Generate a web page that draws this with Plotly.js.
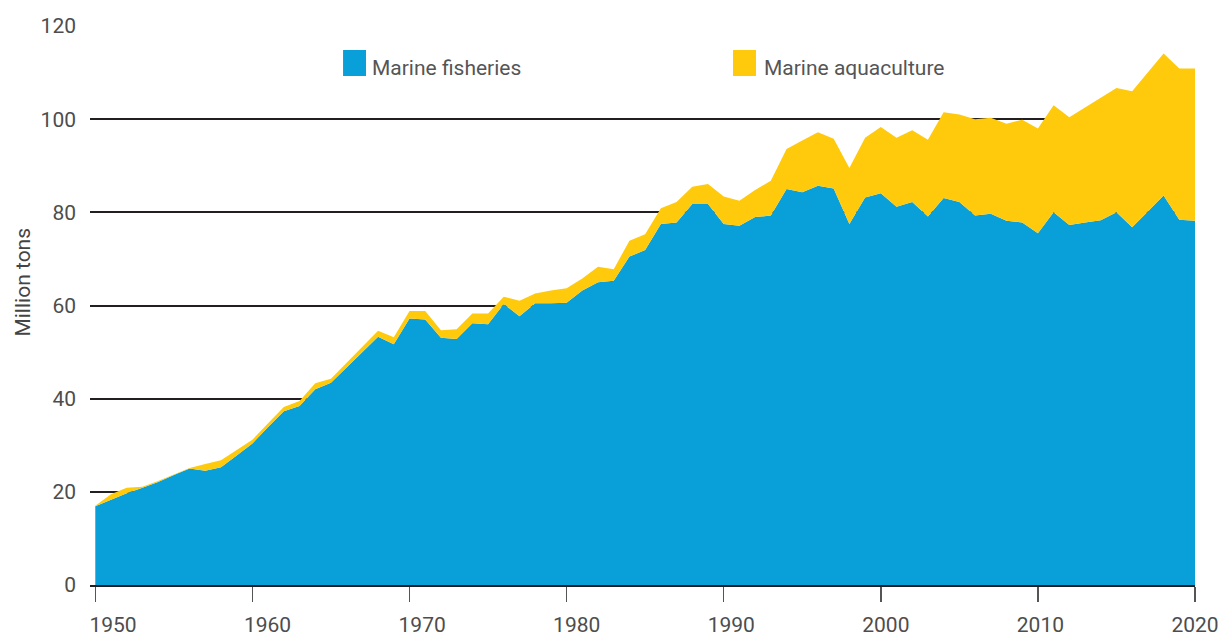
<!DOCTYPE html>
<html>
<head>
<meta charset="utf-8">
<script src="https://cdn.plot.ly/plotly-3.0.1.min.js"></script>
<style>
  html, body { margin: 0; padding: 0; background: #ffffff; }
  #chart { width: 1220px; height: 637px; }
</style>
</head>
<body>
<div id="chart"></div>
<script>
// ---- Data (million tons) ----
const years = [
  1950,1951,1952,1953,1954,1955,1956,1957,1958,1959,
  1960,1961,1962,1963,1964,1965,1966,1967,1968,1969,
  1970,1971,1972,1973,1974,1975,1976,1977,1978,1979,
  1980,1981,1982,1983,1984,1985,1986,1987,1988,1989,
  1990,1991,1992,1993,1994,1995,1996,1997,1998,1999,
  2000,2001,2002,2003,2004,2005,2006,2007,2008,2009,
  2010,2011,2012,2013,2014,2015,2016,2017,2018,2019,
  2020
];

const marineFisheries = [
  16.9,18.3,19.7,20.9,22.1,23.6,25.0,24.5,25.3,27.8,
  30.4,33.9,37.3,38.4,42.0,43.4,46.7,50.0,53.3,51.7,
  57.2,57.0,53.1,52.8,56.2,56.0,60.3,57.7,60.5,60.5,
  60.6,63.2,65.0,65.3,70.5,71.9,77.5,77.8,81.8,81.8,
  77.5,77.1,79.0,79.3,85.0,84.3,85.7,85.1,77.5,83.2,
  84.1,81.2,82.2,79.1,83.1,82.2,79.3,79.7,78.2,77.8,
  75.5,80.0,77.3,77.8,78.3,80.0,76.8,80.2,83.6,78.4,
  78.2
];

const marineAquaculture = [
  0.1,1.2,1.2,0.2,0.2,0.1,0.1,1.5,1.5,1.2,
  0.8,0.8,0.9,1.1,1.3,0.9,1.0,1.2,1.3,1.5,
  1.6,1.8,1.6,2.1,2.1,2.3,1.6,3.3,2.1,2.7,
  3.1,2.6,3.3,2.5,3.4,3.4,3.4,4.4,3.7,4.3,
  5.9,5.4,5.8,7.5,8.6,11.1,11.5,10.7,12.0,12.8,
  14.2,14.8,15.4,16.5,18.4,18.8,20.7,20.6,20.8,22.1,
  22.5,23.0,23.1,24.7,26.3,26.7,29.2,29.8,30.5,32.5,
  32.7
];

const seriesNames = ["Marine fisheries", "Marine aquaculture"];
const seriesColors = ["#09A0D9", "#FFC90C"];

const xTickVals = [1950, 1960, 1970, 1980, 1990, 2000, 2010, 2020];
const xTickText = ["1950", "1960", "1970", "1980", "1990", "2000", "2010", "2020"];
const yTickVals = [0, 20, 40, 60, 80, 100, 120];
const yTickText = ["0", "20", "40", "60", "80", "100", "120"];
const yAxisTitle = "Million tons";

// ---- Traces ----
const FONT = "Roboto, 'Open Sans', sans-serif";

const traces = [
  {
    type: "scatter",
    mode: "lines",
    name: seriesNames[0],
    x: years,
    y: marineFisheries,
    stackgroup: "catch",
    line: { width: 0, color: seriesColors[0] },
    fillcolor: seriesColors[0],
    showlegend: false,
    hoverinfo: "x+y+name"
  },
  {
    type: "scatter",
    mode: "lines",
    name: seriesNames[1],
    x: years,
    y: marineAquaculture,
    stackgroup: "catch",
    line: { width: 0, color: seriesColors[1] },
    fillcolor: seriesColors[1],
    showlegend: false,
    hoverinfo: "x+y+name"
  },
  {
    // carrier for the label axis
    type: "scatter",
    mode: "lines",
    x: [],
    y: [],
    xaxis: "x2",
    yaxis: "y",
    showlegend: false,
    hoverinfo: "skip"
  }
];

// ---- Custom legend (swatch + text) ----
const legendSwatches = [
  { x0: 0.2290, x1: 0.2498 },
  { x0: 0.5819, x1: 0.6027 }
];
const legendTextX = [0.2534, 0.6081];

const shapes = legendSwatches.map((s, i) => ({
  type: "rect",
  xref: "paper", yref: "paper",
  x0: s.x0, x1: s.x1, y0: 0.9106, y1: 0.9571,
  fillcolor: seriesColors[i],
  line: { width: 0 },
  layer: "above"
}));

const annotations = seriesNames.map((n, i) => ({
  xref: "paper", yref: "paper",
  x: legendTextX[i], y: 0.924,
  xanchor: "left", yanchor: "middle",
  text: n,
  showarrow: false,
  font: { family: FONT, size: 21, color: "#555555" }
}));

annotations.push({
  xref: "paper", yref: "paper",
  x: -0.0615, y: 0.5411,
  xanchor: "center", yanchor: "middle",
  text: yAxisTitle,
  textangle: -90,
  showarrow: false,
  font: { family: FONT, size: 21, color: "#444444" }
});

const layout = {
  width: 1220,
  height: 637,
  margin: { l: 90, r: 25, t: 26, b: 52, pad: 0 },
  paper_bgcolor: "#ffffff",
  plot_bgcolor: "#ffffff",
  showlegend: false,
  font: { family: FONT, size: 21, color: "#444444" },
  xaxis: {
    range: [1949.663, 2020],
    tickvals: xTickVals,
    showticklabels: false,
    ticks: "outside",
    ticklen: 15,
    tickwidth: 1.5,
    tickcolor: "#555555",
    showgrid: false,
    zeroline: false,
    showline: true,
    linecolor: "#231f20",
    linewidth: 2,
    fixedrange: true
  },
  xaxis2: {
    overlaying: "x",
    anchor: "y",
    side: "bottom",
    range: [1948.512, 2020],
    tickvals: xTickVals,
    ticktext: xTickText,
    ticks: "",
    ticklabelstandoff: 25,
    showgrid: false,
    zeroline: false,
    showline: false,
    tickfont: { family: FONT, size: 21, color: "#4d4d4d" },
    fixedrange: true
  },
  yaxis: {
    range: [0, 120],
    tickvals: yTickVals,
    ticktext: yTickText,
    ticks: "",
    ticklabelstandoff: 13,
    showgrid: true,
    gridcolor: "#231f20",
    gridwidth: 2,
    zeroline: false,
    showline: false,
    tickfont: { family: FONT, size: 21, color: "#4d4d4d" },
    fixedrange: true
  },
  shapes: shapes,
  annotations: annotations
};

Plotly.newPlot("chart", traces, layout, { displayModeBar: false, staticPlot: true });
</script>
</body>
</html>
